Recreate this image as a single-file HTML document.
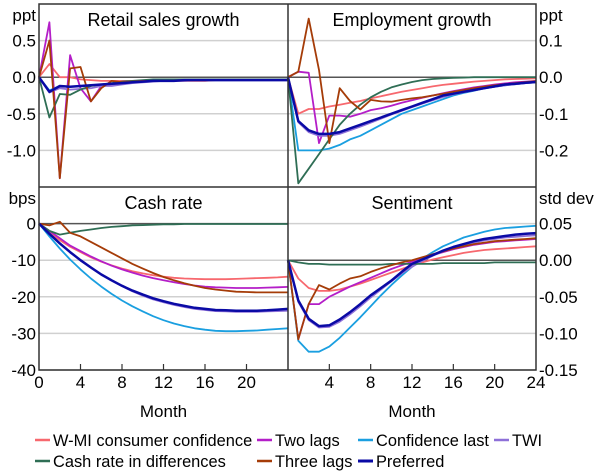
<!DOCTYPE html>
<html><head><meta charset="utf-8"><style>
body{margin:0;background:#fff}
svg{display:block;font-family:"Liberation Sans",sans-serif}
</style></head><body>
<svg id="c" width="600" height="473" viewBox="0 0 600 473"></svg>
<script>
const months=[0,1,2,3,4,5,6,7,8,9,10,11,12,13,14,15,16,17,18,19,20,21,22,23,24];
const seriesNames=["W-MI consumer confidence","Two lags","Confidence last","TWI","Cash rate in differences","Three lags","Preferred"];
const seriesColors=["#f7686e","#b41ec8","#1a9fe0","#8e70d8","#2f6e55","#a53c08","#0a0aa5"];
// Retail sales growth (ppt)
const retailWMI=[0,0.18,0,0,-0.03,-0.04,-0.05,-0.05,-0.05,-0.05,-0.05,-0.05,-0.05,-0.05,-0.05,-0.05,-0.05,-0.04,-0.04,-0.04,-0.04,-0.04,-0.04,-0.04,-0.04];
const retailTwo=[0,0.75,-1.38,0.3,-0.15,-0.33,-0.12,-0.1,-0.08,-0.07,-0.06,-0.05,-0.05,-0.05,-0.04,-0.04,-0.04,-0.04,-0.04,-0.04,-0.04,-0.04,-0.04,-0.04,-0.04];
const retailConf=[0,-0.18,-0.12,-0.13,-0.12,-0.11,-0.1,-0.09,-0.08,-0.07,-0.06,-0.05,-0.05,-0.05,-0.04,-0.04,-0.04,-0.04,-0.04,-0.04,-0.04,-0.04,-0.04,-0.04,-0.04];
const retailTWI=[0,-0.21,-0.15,-0.17,-0.16,-0.15,-0.12,-0.12,-0.1,-0.08,-0.07,-0.06,-0.05,-0.05,-0.05,-0.04,-0.04,-0.04,-0.04,-0.04,-0.04,-0.04,-0.04,-0.04,-0.04];
const retailCash=[0,-0.55,-0.23,-0.24,-0.17,-0.12,-0.1,-0.08,-0.06,-0.05,-0.04,-0.03,-0.03,-0.03,-0.03,-0.03,-0.03,-0.03,-0.03,-0.03,-0.03,-0.03,-0.03,-0.03,-0.03];
const retailThree=[0,0.5,-1.38,0.12,0.14,-0.33,-0.15,-0.05,-0.07,-0.06,-0.05,-0.05,-0.05,-0.05,-0.04,-0.04,-0.04,-0.04,-0.04,-0.04,-0.04,-0.04,-0.04,-0.04,-0.04];
const retailPref=[0,-0.2,-0.12,-0.13,-0.12,-0.11,-0.1,-0.09,-0.08,-0.07,-0.06,-0.05,-0.05,-0.05,-0.04,-0.04,-0.04,-0.04,-0.04,-0.04,-0.04,-0.04,-0.04,-0.04,-0.04];
// Employment growth (ppt)
const empWMI=[0,-0.1,-0.087,-0.087,-0.08,-0.075,-0.07,-0.065,-0.058,-0.052,-0.046,-0.04,-0.035,-0.03,-0.025,-0.021,-0.018,-0.015,-0.012,-0.01,-0.008,-0.006,-0.005,-0.004,-0.003];
const empTwo=[0,0.015,0.012,-0.18,-0.105,-0.105,-0.108,-0.1,-0.09,-0.085,-0.078,-0.07,-0.063,-0.056,-0.05,-0.044,-0.038,-0.033,-0.028,-0.024,-0.02,-0.017,-0.014,-0.012,-0.01];
const empConf=[0,-0.2,-0.2,-0.2,-0.195,-0.185,-0.17,-0.16,-0.145,-0.13,-0.115,-0.1,-0.09,-0.08,-0.07,-0.06,-0.05,-0.043,-0.037,-0.03,-0.026,-0.022,-0.019,-0.016,-0.014];
const empTWI=[0,-0.123,-0.15,-0.16,-0.16,-0.155,-0.145,-0.135,-0.124,-0.113,-0.102,-0.092,-0.082,-0.072,-0.063,-0.054,-0.047,-0.041,-0.036,-0.031,-0.026,-0.022,-0.019,-0.016,-0.014];
const empCash=[0,-0.29,-0.25,-0.21,-0.17,-0.13,-0.1,-0.075,-0.055,-0.04,-0.028,-0.02,-0.013,-0.008,-0.005,-0.003,-0.002,-0.001,0,0,0,0,0,0,0];
const empThree=[0,0.015,0.16,0.02,-0.18,-0.03,-0.065,-0.088,-0.062,-0.066,-0.067,-0.062,-0.058,-0.055,-0.05,-0.045,-0.04,-0.035,-0.03,-0.026,-0.022,-0.019,-0.016,-0.013,-0.011];
const empPref=[0,-0.12,-0.145,-0.155,-0.155,-0.15,-0.14,-0.13,-0.12,-0.11,-0.1,-0.09,-0.08,-0.07,-0.06,-0.05,-0.045,-0.04,-0.035,-0.03,-0.025,-0.02,-0.018,-0.015,-0.013];
// Cash rate (bps)
const cashWMI=[0,-2.5,-4.5,-6.3,-7.8,-9.2,-10.4,-11.4,-12.3,-13,-13.6,-14.1,-14.5,-14.8,-15,-15.1,-15.2,-15.2,-15.2,-15.1,-15,-14.9,-14.8,-14.7,-14.5];
const cashTwo=[0,-2,-4,-6,-7.5,-9,-10.3,-11.5,-12.5,-13.4,-14.2,-14.9,-15.5,-16,-16.5,-16.9,-17.2,-17.4,-17.5,-17.6,-17.6,-17.6,-17.5,-17.4,-17.3];
const cashConf=[0,-3.5,-6.8,-9.8,-12.5,-15,-17.2,-19.2,-21,-22.6,-24,-25.3,-26.4,-27.3,-28,-28.6,-29,-29.3,-29.4,-29.4,-29.3,-29.2,-29,-28.8,-28.6];
const cashTWI=[0,-2.8,-5.4,-7.8,-10,-12,-13.9,-15.6,-17.1,-18.5,-19.7,-20.7,-21.5,-22.2,-22.8,-23.3,-23.6,-23.9,-24,-24.1,-24.1,-24.1,-24,-23.9,-23.8];
const cashCash=[0,-2,-3,-2.5,-2,-1.6,-1.2,-0.9,-0.7,-0.5,-0.4,-0.3,-0.2,-0.2,-0.1,-0.1,-0.1,-0.1,-0.1,-0.1,-0.1,-0.1,-0.1,-0.1,-0.1];
const cashThree=[0,-0.5,0.5,-2.5,-3.5,-5,-6.5,-8,-9.5,-11,-12.3,-13.5,-14.6,-15.5,-16.3,-17,-17.6,-18,-18.3,-18.6,-18.7,-18.8,-18.8,-18.8,-18.8];
const cashPref=[0,-2.8,-5.4,-7.8,-10,-12,-13.9,-15.5,-17,-18.3,-19.4,-20.4,-21.2,-21.9,-22.5,-23,-23.3,-23.6,-23.7,-23.8,-23.8,-23.8,-23.7,-23.5,-23.3];
// Sentiment (std dev)
const sentWMI=[0,-0.025,-0.038,-0.042,-0.042,-0.04,-0.036,-0.032,-0.027,-0.022,-0.017,-0.012,-0.007,-0.003,0.001,0.004,0.007,0.01,0.012,0.014,0.015,0.016,0.017,0.018,0.019];
const sentTwo=[0,-0.108,-0.06,-0.06,-0.05,-0.043,-0.036,-0.03,-0.024,-0.018,-0.012,-0.007,-0.002,0.003,0.007,0.011,0.015,0.018,0.021,0.023,0.025,0.026,0.027,0.028,0.029];
const sentConf=[0,-0.11,-0.125,-0.125,-0.118,-0.106,-0.092,-0.078,-0.063,-0.048,-0.034,-0.021,-0.009,0.002,0.011,0.019,0.025,0.031,0.035,0.039,0.042,0.044,0.045,0.046,0.047];
const sentTWI=[0,-0.057,-0.082,-0.092,-0.091,-0.084,-0.074,-0.063,-0.051,-0.04,-0.029,-0.018,-0.009,-0.001,0.006,0.012,0.017,0.021,0.024,0.027,0.029,0.031,0.032,0.033,0.034];
const sentCash=[0,-0.003,-0.005,-0.005,-0.006,-0.006,-0.006,-0.006,-0.006,-0.006,-0.005,-0.005,-0.005,-0.005,-0.005,-0.004,-0.004,-0.004,-0.004,-0.004,-0.003,-0.003,-0.003,-0.003,-0.003];
const sentThree=[0,-0.108,-0.06,-0.034,-0.04,-0.032,-0.025,-0.022,-0.016,-0.011,-0.007,-0.003,0,0.004,0.008,0.012,0.016,0.019,0.022,0.024,0.026,0.027,0.028,0.029,0.03];
const sentPref=[0,-0.055,-0.08,-0.09,-0.089,-0.081,-0.071,-0.06,-0.048,-0.038,-0.028,-0.016,-0.005,0.001,0.007,0.013,0.018,0.022,0.026,0.029,0.031,0.033,0.035,0.036,0.037];
const retailTicks=["0.5","0.0","-0.5","-1.0"];
const empTicks=["0.1","0.0","-0.1","-0.2"];
const cashTicks=["0","-10","-20","-30","-40"];
const sentTicks=["0.05","0.00","-0.05","-0.10","-0.15"];
const xTicksLeft=["0","4","8","12","16","20"];
const xTicksRight=["4","8","12","16","20","24"];

const svg=document.getElementById('c');
const NS="http://www.w3.org/2000/svg";
function mk(tag,attrs,parent){const e=document.createElementNS(NS,tag);for(const k in attrs)e.setAttribute(k,attrs[k]);(parent||svg).appendChild(e);return e;}

const panels=[
 {name:"retail",title:"Retail sales growth",x0:39,x1:288,y0:4,y1:187,min:-1.5,max:1.0,ticks:retailTicks,side:"left",unit:"ppt",data:[retailWMI,retailTwo,retailConf,retailTWI,retailCash,retailThree,retailPref]},
 {name:"employment",title:"Employment growth",x0:288,x1:536,y0:4,y1:187,min:-0.3,max:0.2,ticks:empTicks,side:"right",unit:"ppt",data:[empWMI,empTwo,empConf,empTWI,empCash,empThree,empPref]},
 {name:"cash-rate",title:"Cash rate",x0:39,x1:288,y0:187,y1:370,min:-40,max:10,ticks:cashTicks,side:"left",unit:"bps",data:[cashWMI,cashTwo,cashConf,cashTWI,cashCash,cashThree,cashPref]},
 {name:"sentiment",title:"Sentiment",x0:288,x1:536,y0:187,y1:370,min:-0.15,max:0.1,ticks:sentTicks,side:"right",unit:"std dev",data:[sentWMI,sentTwo,sentConf,sentTWI,sentCash,sentThree,sentPref]}
];
panels.forEach(p=>{
 const g=mk('g',{});
 
 
 const xs=m=>p.x0+(p.x1-p.x0)*m/24;
 const ys=v=>p.y1-(v-p.min)/(p.max-p.min)*(p.y1-p.y0);
 p.ticks.forEach(t=>{
  const v=parseFloat(t),y=ys(v);
  if(Math.abs(v)>1e-9){const gl=mk('line',{x1:p.x0,x2:p.x1,y1:y,y2:y,stroke:"#d0d0d0","stroke-width":1.5},g);
   }
  const tx=mk('text',{x:p.side=="left"?p.x0-3:p.x1+3,y:y+6,"font-size":17,"text-anchor":p.side=="left"?"end":"start",fill:"#000"},g);
  tx.textContent=t;
  
 });
 const ul=mk('text',{x:p.side=="left"?p.x0-3:p.x1+3,y:p.y0+17,"font-size":17,"text-anchor":p.side=="left"?"end":"start",fill:"#000"},g);
 ul.textContent=p.unit;
 
 const z=mk('line',{x1:p.x0,x2:p.x1,y1:ys(0),y2:ys(0),stroke:"#555","stroke-width":1.5},g);
 
 p.data.forEach((arr,i)=>{
  const d=arr.map((v,m)=>(m?"L":"M")+xs(months[m]).toFixed(1)+","+ys(v).toFixed(1)).join("");
  const pl=mk('path',{d:d,fill:"none",stroke:seriesColors[i],"stroke-width":i==6?2.5:1.8,"stroke-linejoin":"round"},g);
  
  
 });
 const tt=mk('text',{x:(p.x0+p.x1)/2,y:p.y0+22,"font-size":18,"text-anchor":"middle",fill:"#000"},g);
 tt.textContent=p.title;
 
 if(p.y1==370){
  for(let m=4;m<=20;m+=4){const tk=mk('line',{x1:xs(m),x2:xs(m),y1:370,y2:364,stroke:"#333","stroke-width":1.2},g);
   }
  const labels=p.side=="left"?xTicksLeft:xTicksRight;
  labels.forEach(t=>{const tx=mk('text',{x:xs(+t),y:388,"font-size":17,"text-anchor":"middle",fill:"#000"},g);
   tx.textContent=t;});
  const mt=mk('text',{x:(p.x0+p.x1)/2,y:417,"font-size":17,"text-anchor":"middle",fill:"#000"},g);
  mt.textContent="Month";
 }
});
const fr=mk('path',{d:"M39,4H536V370H39Z M288,4V370 M39,187H536",fill:"none",stroke:"#333","stroke-width":1.5});

const legPos=[[35,440],[257,440],[358,440],[494,440],[35,461],[257,461],[358,461]];
const lg=mk('g',{});

seriesNames.forEach((n,i)=>{
 const [x,y]=legPos[i];
 const e=mk('g',{},lg);
 
 mk('line',{x1:x,x2:x+15,y1:y,y2:y,stroke:seriesColors[i],"stroke-width":i==6?3:2.5},e);
 const t=mk('text',{x:x+18,y:y+6,"font-size":16.4,fill:"#000"},e);
 t.textContent=n;
});
</script>
</body></html>
